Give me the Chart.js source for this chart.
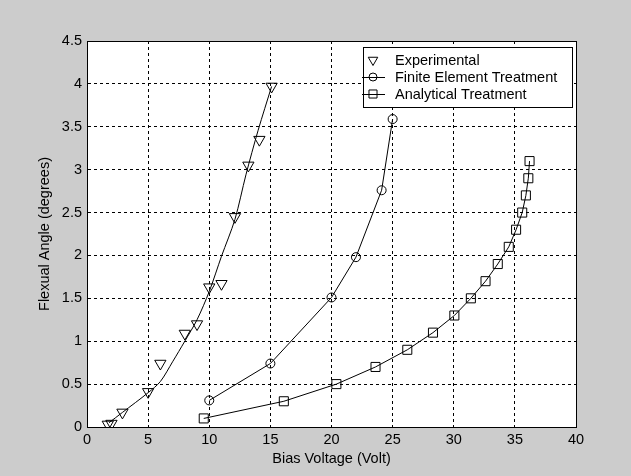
<!DOCTYPE html>
<html>
<head>
<meta charset="utf-8">
<title>Flexual angle vs bias voltage</title>
<script src="https://cdn.jsdelivr.net/npm/chart.js@4/dist/chart.umd.min.js"></script>
<style>
  html, body { margin: 0; padding: 0; background: #cccccc; }
  #wrap { width: 631px; height: 476px; }
</style>
</head>
<body>
<div id="wrap"><canvas id="chart" width="631" height="476"></canvas></div>
<script>
// Experimental measurements (markers only)
const expVoltage = [1.7, 2.0, 2.9, 5.0, 6.0, 8.0, 9.0, 10.0, 11.0, 12.1, 13.2, 14.1, 15.1];
const expAngle = [0.03, 0.04, 0.17, 0.41, 0.74, 1.09, 1.2, 1.63, 1.67, 2.45, 3.05, 3.35, 3.97];

// Curve drawn through the experimental points (no markers, not in legend)
const fitVoltage = [1.8, 2.9, 5.0, 6.0, 7.0, 8.0, 9.0, 10.0, 11.0, 12.1, 13.0, 14.0, 15.1];
const fitAngle = [0.05, 0.17, 0.4, 0.53, 0.76, 1.0, 1.25, 1.58, 1.99, 2.42, 2.94, 3.46, 3.97];

// Finite element treatment
const feVoltage = [10.0, 15.0, 20.0, 22.0, 24.1, 25.0];
const feAngle = [0.31, 0.74, 1.51, 1.98, 2.76, 3.59];

// Analytical treatment
const anVoltage = [9.55, 16.1, 20.4, 23.6, 26.2, 28.3, 30.05, 31.4, 32.6, 33.6, 34.5, 35.1, 35.6, 35.9, 36.1, 36.2];
const anAngle = [0.1, 0.3, 0.5, 0.7, 0.9, 1.1, 1.3, 1.5, 1.7, 1.9, 2.1, 2.3, 2.5, 2.7, 2.9, 3.1];

// Axis ticks
const xTicks = [0, 5, 10, 15, 20, 25, 30, 35, 40];
const yTicks = [0, 0.5, 1, 1.5, 2, 2.5, 3, 3.5, 4, 4.5];

const FONT = { family: "Arial, 'Liberation Sans', sans-serif", size: 14.5 };

// Turn two arrays into {x, y} points for the scatter chart.
function toPoints(xs, ys) {
  return xs.map((x, i) => ({ x: x, y: ys[i] }));
}

// Gray figure background, white axes background, box round the axes.
const framePlugin = {
  id: "frame",
  beforeDraw(chart) {
    const { ctx, chartArea: a } = chart;
    ctx.save();
    ctx.fillStyle = "#cccccc";
    ctx.fillRect(0, 0, chart.width, chart.height);
    ctx.fillStyle = "#ffffff";
    ctx.fillRect(a.left, a.top, a.right - a.left, a.bottom - a.top);
    ctx.restore();
  },
  afterDraw(chart) {
    const { ctx, chartArea: a } = chart;
    ctx.save();
    ctx.strokeStyle = "#000";
    ctx.lineWidth = 1;
    ctx.setLineDash([]);
    ctx.strokeRect(Math.round(a.left) + 0.5, Math.round(a.top) + 0.5,
      Math.round(a.right - a.left), Math.round(a.bottom - a.top));
    ctx.restore();
  },
};

// MATLAB style legend box in the upper right corner of the axes.
const legendPlugin = {
  id: "boxLegend",
  afterDraw(chart) {
    const ctx = chart.ctx;
    const box = { left: 363, top: 47, width: 209, height: 60 };
    const rowGap = 17;
    ctx.save();
    ctx.setLineDash([]);
    ctx.fillStyle = "#ffffff";
    ctx.fillRect(box.left, box.top, box.width, box.height);
    ctx.strokeStyle = "#000";
    ctx.lineWidth = 1;
    ctx.strokeRect(box.left + 0.5, box.top + 0.5, box.width, box.height);

    const entries = chart.data.datasets.filter((d) => !d.hideInLegend);
    entries.forEach((d, i) => {
      const y = box.top + 13 + i * rowGap;
      const mx = box.left + 10;
      if (d.showLine) {
        ctx.beginPath();
        ctx.strokeStyle = "#000";
        ctx.lineWidth = 1;
        ctx.moveTo(box.left - 1, y + 0.5);
        ctx.lineTo(box.left + 22, y + 0.5);
        ctx.stroke();
      }
      ctx.strokeStyle = "#000";
      ctx.fillStyle = "rgba(0,0,0,0)";
      ctx.lineWidth = 1;
      Chart.helpers.drawPoint(ctx, {
        pointStyle: d.pointStyle,
        radius: d.legendRadius,
        rotation: d.pointRotation || 0,
        borderWidth: 1,
      }, mx, y);
      ctx.fillStyle = "#000";
      ctx.font = `${FONT.size}px ${FONT.family}`;
      ctx.textBaseline = "middle";
      ctx.textAlign = "left";
      ctx.fillText(d.label, box.left + 32, y + 1);
    });
    ctx.restore();
  },
};

const gridStyle = {
  color: "#000",
  lineWidth: 1,
  drawTicks: false,
};

// In Chart.js v4 the dash of the grid lines lives under "border".
const borderStyle = { display: true, color: "#000", width: 1, dash: [3, 3] };

new Chart(document.getElementById("chart"), {
  type: "scatter",
  data: {
    datasets: [
      {
        label: "Experimental",
        data: toPoints(expVoltage, expAngle),
        showLine: false,
        pointStyle: "triangle",
        pointRotation: 180,
        pointRadius: 6.5,
        legendRadius: 5.5,
        borderColor: "#000",
        backgroundColor: "rgba(0,0,0,0)",
        borderWidth: 1,
      },
      {
        label: "Experimental fit",
        hideInLegend: true,
        data: toPoints(fitVoltage, fitAngle),
        showLine: true,
        pointRadius: 0,
        borderColor: "#000",
        borderWidth: 1,
        tension: 0.3,
      },
      {
        label: "Finite Element Treatment",
        data: toPoints(feVoltage, feAngle),
        showLine: true,
        pointStyle: "circle",
        pointRadius: 4.5,
        legendRadius: 4,
        borderColor: "#000",
        backgroundColor: "rgba(0,0,0,0)",
        borderWidth: 1,
        tension: 0,
      },
      {
        label: "Analytical Treatment",
        data: toPoints(anVoltage, anAngle),
        showLine: true,
        pointStyle: "rect",
        pointRadius: 6.4,
        legendRadius: 5.7,
        borderColor: "#000",
        backgroundColor: "rgba(0,0,0,0)",
        borderWidth: 1,
        tension: 0,
      },
    ],
  },
  options: {
    responsive: false,
    animation: false,
    events: [],
    layout: { padding: { top: 41, right: 55, left: 0, bottom: 0 } },
    plugins: {
      legend: { display: false },
      tooltip: { enabled: false },
    },
    scales: {
      x: {
        type: "linear",
        min: 0,
        max: 40,
        afterBuildTicks: (scale) => { scale.ticks = xTicks.map((v) => ({ value: v })); },
        afterFit: (scale) => { scale.height = 49; },
        grid: gridStyle,
        border: borderStyle,
        ticks: { color: "#000", font: FONT, padding: 4, maxRotation: 0, callback: (v) => String(v) },
        title: {
          display: true,
          text: "Bias Voltage (Volt)",
          color: "#000",
          font: FONT,
          padding: { top: 0, bottom: 8 },
        },
      },
      y: {
        type: "linear",
        min: 0,
        max: 4.5,
        afterBuildTicks: (scale) => { scale.ticks = yTicks.map((v) => ({ value: v })); },
        afterFit: (scale) => { scale.width = 87; },
        grid: gridStyle,
        border: borderStyle,
        ticks: { color: "#000", font: FONT, padding: 5, callback: (v) => String(v) },
        title: {
          display: true,
          text: "Flexual Angle (degrees)",
          color: "#000",
          font: FONT,
          padding: { top: 36, bottom: 0 },
        },
      },
    },
  },
  plugins: [framePlugin, legendPlugin],
});
</script>
</body>
</html>
